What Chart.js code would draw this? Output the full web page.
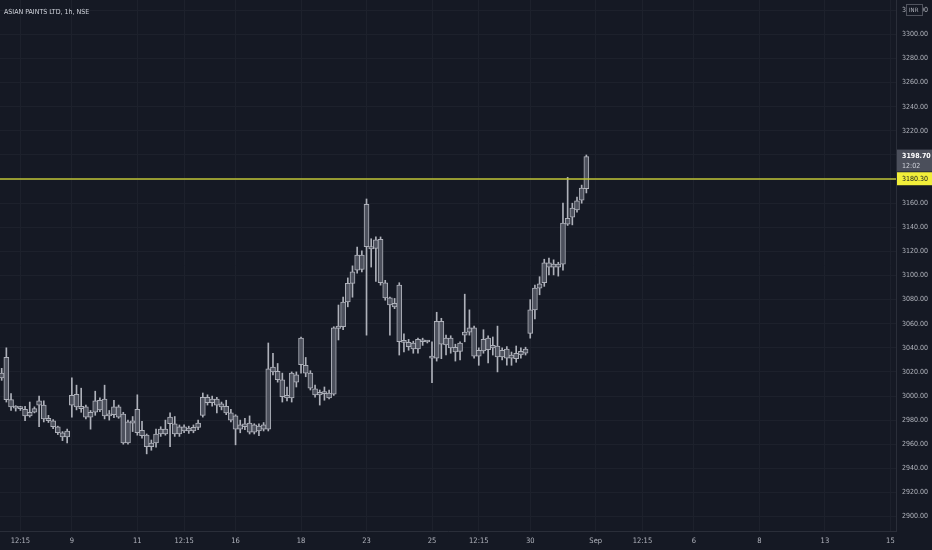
<!DOCTYPE html>
<html>
<head>
<meta charset="utf-8">
<title>ASIAN PAINTS LTD, 1h, NSE</title>
<script src="https://cdn.jsdelivr.net/npm/chart.js@4/dist/chart.umd.min.js"></script>
<style>
  html, body { margin: 0; padding: 0; background: #151924; }
  canvas { display: block; }
</style>
</head>
<body>
<canvas id="chart" width="932" height="550"></canvas>
<script>
// === Данные: свечи 1h ===
const opens = [
  3015, 3032, 2997, 2990.5, 2990, 2989, 2983.5, 2986.5, 2992.5, 2992.5,
  2981.5, 2979.5, 2974.5, 2969.5, 2966, 2992.5, 3001.5, 2991.5, 2991, 2982.5,
  2986.5, 2988.5, 2997.5, 2983.5, 2984.5, 2991, 2985, 2961, 2977.5, 2989,
  2971.5, 2967.5, 2958, 2961, 2968.5, 2972.5, 2977, 2977, 2968.5, 2974.5,
  2971, 2971, 2974, 2984, 2999, 2994.5, 2997.5, 2993.5, 2991.5, 2986,
  2983.5, 2972.5, 2977, 2977.5, 2970, 2975, 2972.5, 2972.5, 3024, 3020.5,
  3013.5, 2998.5, 2998.5, 3017.5, 3026, 3025.5, 3019, 3006, 3001, 3003,
  3002.5, 3001.5, 3056, 3057.5, 3078, 3093.5, 3104.5, 3117, 3159, 3124,
  3122.5, 3130, 3094, 3081.5, 3074, 3092, 3045, 3044.5, 3039, 3039,
  3046.5, 3045, 3032.4, 3031.5, 3062, 3042.5, 3048, 3040.5, 3037, 3050.5,
  3053, 3056.5, 3033, 3037.5, 3048, 3040, 3041.5, 3032.5, 3039, 3031.5,
  3031, 3034, 3035.5, 3052, 3071.5, 3089.5, 3094, 3110.5, 3107, 3109.5,
  3109.5, 3142.5, 3148.5, 3154.5, 3162.5, 3172
];
const highs = [
  3023, 3040, 3002, 2992, 2991.5, 2991.5, 2995, 2991, 3000, 2996,
  2984, 2980.5, 2975, 2970.5, 2972.5, 3015, 3009, 3006.5, 2992.5, 2988,
  3004, 2998.5, 3009, 2988, 2996.5, 2992.5, 2986.5, 2980, 2983, 3001,
  2979, 2968.5, 2963.5, 2972.5, 2974.5, 2980, 2986, 2983, 2976, 2976,
  2975, 2976, 2980, 3002.5, 3001, 3000, 2999, 2995, 2996.5, 2989,
  2984.5, 2980, 2981.5, 2983.5, 2977, 2977, 2978, 3044, 3035.5, 3027,
  3019, 3007.5, 3020, 3020, 3049, 3032, 3021, 3009, 3005, 3007.5,
  3005, 3057.5, 3075.5, 3082, 3098, 3108, 3123.5, 3120.5, 3163.5, 3130.5,
  3132, 3132, 3096, 3082, 3081, 3094, 3051.5, 3047, 3045.5, 3048,
  3048, 3046, 3045, 3069.5, 3064.5, 3050.5, 3050, 3043, 3045, 3084.5,
  3071.5, 3058, 3040, 3055, 3050, 3049, 3058, 3040, 3041, 3036.5,
  3041.5, 3040, 3040.5, 3080, 3092, 3099, 3113.5, 3114.5, 3113, 3111,
  3160, 3181.5, 3160, 3165, 3175, 3200
];
const lows = [
  3013, 2995, 2988, 2987.5, 2988, 2979.5, 2982.5, 2986, 2974.5, 2978.5,
  2978, 2973, 2968, 2963, 2961, 2982.5, 2988.5, 2986.5, 2981, 2972.5,
  2984, 2987, 2981, 2980, 2982, 2981.5, 2960, 2960, 2970.5, 2967.5,
  2965, 2952, 2955, 2957.5, 2966.5, 2967.5, 2958, 2966.5, 2966.5, 2969.5,
  2969, 2969.5, 2972, 2982.5, 2992.5, 2991.5, 2986, 2988.5, 2984.5, 2978.5,
  2959.5, 2969.5, 2972, 2968.5, 2968.5, 2967, 2971, 2971, 3017.5, 3011.5,
  2995, 2996, 2995, 3007.5, 3019, 3016, 3005, 2999, 2992.5, 2996.5,
  2997.5, 3000.5, 3046.5, 3055, 3074, 3082, 3102, 3103, 3050.5, 3107,
  3095, 3092, 3079.5, 3050.5, 3072.5, 3034, 3036.5, 3038, 3035.5, 3035.5,
  3042, 3044, 3011, 3029, 3031, 3034, 3035.5, 3029, 3030, 3045,
  3050.5, 3031.5, 3025.5, 3035.5, 3027.5, 3034, 3020, 3030, 3025.5, 3025.5,
  3028, 3031.5, 3034, 3048, 3064, 3084, 3091, 3100.5, 3100.5, 3099.5,
  3104.5, 3141.5, 3142, 3152.5, 3160, 3168.5
];
const closes = [
  3019, 2997, 2991, 2990, 2989.5, 2983.5, 2986.5, 2989.5, 2996, 2981,
  2979.5, 2974.5, 2969.5, 2966, 2971, 3000.5, 2991, 2989.5, 2982.5, 2986.5,
  2996, 2996.5, 2983.5, 2984.5, 2991, 2982.5, 2961, 2978.5, 2979.5, 2969.5,
  2967, 2958, 2961, 2968.5, 2972.5, 2968.5, 2982.5, 2968.5, 2974.5, 2971,
  2973.5, 2974, 2977.5, 2999, 2994.5, 2997.5, 2992.5, 2991, 2986, 2980,
  2972.5, 2976, 2974.5, 2970, 2976, 2971, 2976, 3022.5, 3020, 3013.5,
  2999.5, 3000.5, 3019, 3011.5, 3048, 3019, 3006.5, 3001, 3003, 3002,
  2998.5, 3056.5, 3058, 3078, 3093.5, 3103, 3117, 3105, 3124, 3122,
  3129.5, 3094, 3081.5, 3075.5, 3077, 3045, 3044.5, 3041, 3044, 3047,
  3045, 3044.8, 3031.5, 3062, 3043, 3048, 3040, 3036.5, 3044, 3053,
  3056.5, 3033, 3038, 3047, 3038.5, 3042, 3032.5, 3038, 3031.5, 3034,
  3035.5, 3037, 3039, 3071.5, 3089.5, 3093, 3110.5, 3107, 3109.5, 3107,
  3143.5, 3147.5, 3156, 3162, 3172.5, 3198.7
];

// подписи оси времени (номер свечи -> текст)
const timeTicks = [4, 15, 29, 39, 50, 64, 78, 92, 102, 113, 127, 137, 148, 162, 176, 190];
const timeLabels = ['12:15', '9', '11', '12:15', '16', '18', '23', '25', '12:15', '30', 'Sep', '12:15', '6', '8', '13', '15'];

const symbolTitle = 'ASIAN PAINTS LTD, 1h, NSE';
const lastPrice = 3198.70;
const lastTimer = '12:02';
const alertLevel = 3180.30;

const FONT = "'DejaVu Sans Condensed', 'Liberation Sans Narrow', 'Roboto', sans-serif";
const textColor = '#b2b5be';
const gridColor = '#1d212c';

// === Плагин: фон, уровень, ценовые метки, заголовок ===
const overlay = {
  id: 'overlay',
  beforeDraw(chart) {
    const { ctx } = chart;
    ctx.save();
    ctx.fillStyle = '#151924';
    ctx.fillRect(0, 0, chart.width, chart.height);
    ctx.restore();
  },
  afterDatasetsDraw(chart) {
    const { ctx, chartArea } = chart;
    const ys = chart.scales.y;
    const yl = Math.round(ys.getPixelForValue(alertLevel));
    ctx.save();
    ctx.strokeStyle = '#bfc536';
    ctx.lineWidth = 1.5;
    ctx.beginPath();
    ctx.moveTo(chartArea.left, yl);
    ctx.lineTo(chartArea.right, yl);
    ctx.stroke();
    ctx.restore();
  },
  afterDraw(chart) {
    const { ctx, chartArea } = chart;
    const ys = chart.scales.y;
    const x0 = chartArea.right + 1;
    const w = chart.width - x0;
    ctx.save();
    ctx.textBaseline = 'middle';
    ctx.textAlign = 'left';

    // заголовок
    ctx.font = '7px ' + FONT;
    ctx.fillStyle = '#d1d4dc';
    ctx.fillText(symbolTitle, 4, 12);

    // значок INR поверх верхней метки
    ctx.fillStyle = '#151924';
    ctx.fillRect(906, 4, 17, 12);
    ctx.strokeStyle = '#50535e';
    ctx.strokeRect(906.5, 4.5, 16, 11);
    ctx.fillStyle = textColor;
    ctx.font = '6px ' + FONT;
    ctx.fillText('INR', 909, 10.5);

    // последняя цена + таймер
    const yp = ys.getPixelForValue(lastPrice);
    ctx.fillStyle = '#4b4f5b';
    ctx.fillRect(x0, yp - 7, w, 22);
    ctx.fillStyle = '#ffffff';
    ctx.font = 'bold 7px ' + FONT;
    ctx.fillText(lastPrice.toFixed(2), x0 + 5, yp);
    ctx.font = '7px ' + FONT;
    ctx.fillStyle = '#d1d4dc';
    ctx.fillText(lastTimer, x0 + 5, yp + 10);

    // уровень
    const ya = ys.getPixelForValue(alertLevel);
    ctx.fillStyle = '#f2ef3a';
    ctx.fillRect(x0, ya - 6.5, w, 13);
    ctx.fillStyle = '#131722';
    ctx.font = '7px ' + FONT;
    ctx.fillText(alertLevel.toFixed(2), x0 + 5, ya + 0.5);
    ctx.restore();
  }
};

const idx = opens.map((_, i) => i);

new Chart(document.getElementById('chart'), {
  type: 'bar',
  data: {
    datasets: [
      {
        label: 'body',
        order: 0,
        data: idx.map(i => ({ x: i, y: [opens[i], closes[i]] })),
        backgroundColor: '#4d515d',
        borderColor: '#aeb1ba',
        borderWidth: 1,
        borderSkipped: false,
        barThickness: 5,
        minBarLength: 2,
        grouped: false
      },
      {
        label: 'wick',
        order: 1,
        data: idx.map(i => ({ x: i, y: [lows[i], highs[i]] })),
        backgroundColor: '#aeb1ba',
        borderWidth: 0,
        barThickness: 1,
        grouped: false
      }
    ]
  },
  options: {
    responsive: false,
    animation: false,
    layout: { padding: 0 },
    plugins: { legend: { display: false }, tooltip: { enabled: false } },
    scales: {
      x: {
        type: 'linear',
        offset: false,
        min: -0.36,
        max: 191.2,
        afterBuildTicks: s => { s.ticks = timeTicks.map(v => ({ value: v })); },
        afterFit: s => { s.height = 19; s.paddingLeft = 0; s.paddingRight = 0; },
        ticks: {
          autoSkip: false,
          maxRotation: 0,
          padding: 6,
          color: textColor,
          font: { family: FONT, size: 7.5 },
          callback: v => timeLabels[timeTicks.indexOf(v)]
        },
        grid: { color: gridColor, drawTicks: false, offset: false },
        border: { color: '#2a2e39' }
      },
      y: {
        position: 'right',
        min: 2888,
        max: 3328.6,
        afterFit: s => { s.width = 36; s.paddingTop = 0; s.paddingBottom = 0; },
        ticks: {
          stepSize: 20,
          includeBounds: false,
          padding: 6,
          color: textColor,
          font: { family: FONT, size: 7 },
          callback: v => v.toFixed(2)
        },
        grid: { color: gridColor, drawTicks: false },
        border: { color: '#2a2e39' }
      }
    }
  },
  plugins: [overlay]
});
</script>
</body>
</html>
